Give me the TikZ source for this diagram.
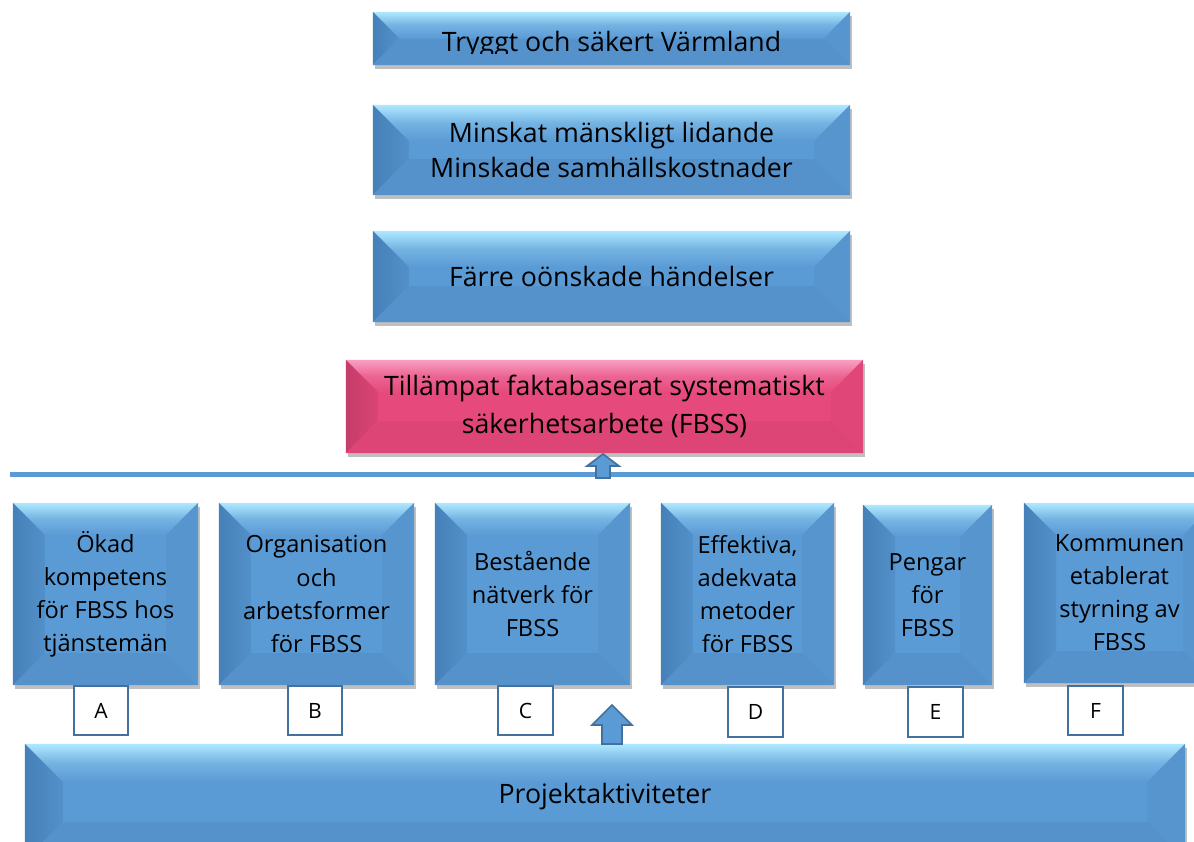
\documentclass[tikz,border=0pt]{standalone}
\usepackage{fontspec}
\setmainfont{Open Sans}
\usetikzlibrary{shadows}
\definecolor{bluemain}{HTML}{5B9BD5}
\definecolor{bluetop}{HTML}{AEE8FF}
\definecolor{blueleft}{HTML}{4680B8}
\definecolor{blueright}{HTML}{5795CF}
\definecolor{bluebot}{HTML}{5592CB}
\definecolor{bluerim}{HTML}{41719C}
\definecolor{pinkmain}{HTML}{E64A7D}
\definecolor{pinktop}{HTML}{F8A0C2}
\definecolor{pinkleft}{HTML}{C63D69}
\definecolor{pinkright}{HTML}{E04778}
\definecolor{pinkbot}{HTML}{DD4576}
\tikzset{
  bevel/.style 2 args={path picture={
    \coordinate (bnw) at (path picture bounding box.north west);
    \coordinate (bne) at (path picture bounding box.north east);
    \coordinate (bsw) at (path picture bounding box.south west);
    \coordinate (bse) at (path picture bounding box.south east);
    \shade[top color=#1top, bottom color=#1main, middle color=#1main!70!#1top]
      (bnw) -- (bne) -- ([shift={(-#2,-#2)}]bne) -- ([shift={(#2,-#2)}]bnw) -- cycle;
    \shade[left color=#1left, right color=#1main!60!#1left]
      (bnw) -- ([shift={(#2,-#2)}]bnw) -- ([shift={(#2,#2)}]bsw) -- (bsw) -- cycle;
    \fill[#1right] (bne) -- ([shift={(-#2,-#2)}]bne) -- ([shift={(-#2,#2)}]bse) -- (bse) -- cycle;
    \fill[#1bot] (bsw) -- ([shift={(#2,#2)}]bsw) -- ([shift={(-#2,#2)}]bse) -- (bse) -- cycle;
  }},
  boxshadow/.style={drop shadow={shadow xshift=0.5mm, shadow yshift=-1mm, opacity=0.25, fill=black}},
  bluebox/.style={fill=bluemain, inner sep=0pt, align=center, bevel={blue}{#1}, boxshadow},
  pinkbox/.style={fill=pinkmain, inner sep=0pt, align=center, bevel={pink}{#1}, boxshadow},
  bigtxt/.style={font=\fontsize{19}{25}\selectfont},
  smalltxt/.style={font=\fontsize{16.8}{23.5}\selectfont},
  tag/.style={draw=bluerim, line width=1.4pt, fill=white, inner sep=0pt,
    minimum width=1.36cm, minimum height=1.23cm, font=\fontsize{15}{18}\selectfont},
  uparrow/.style={fill=bluemain, draw=bluerim, line width=1.2pt, line join=miter},
  rail/.style={draw=bluemain, line width=3.5pt}
}
\begin{document}
\begin{tikzpicture}[x=0.025cm, y=-0.025cm]
  \useasboundingbox (0,0) rectangle (1194,841);

  % goals
  \node[bluebox=0.65cm, minimum width=11.925cm, minimum height=1.325cm] (goal) at (611.5,38.5) {};
  \begin{scope}
    \clip (373,12) rectangle (850,54);
    \node[bigtxt, anchor=base] (goaltext) at (611.5,52) {Tryggt och säkert Värmland};
  \end{scope}
  \node[bluebox=0.9cm, bigtxt, minimum width=11.925cm, minimum height=2.25cm] (effect) at (611.5,150)
    {Minskat mänskligt lidande\\Minskade samhällskostnader};
  \node[bluebox=0.9cm, bigtxt, minimum width=11.925cm, minimum height=2.275cm] (fewer) at (611.5,276.5)
    {Färre oönskade händelser};
  \node[pinkbox=0.8cm, minimum width=12.925cm, minimum height=2.325cm,
    font=\fontsize{19}{27}\selectfont] (fbss) at (604.5,406.5)
    {Tillämpat faktabaserat systematiskt\\säkerhetsarbete (FBSS)};

  \draw[rail] (10,474.5) -- (1194,474.5);
  \coordinate (arr1) at (603,478);
  \draw[uparrow] (arr1) ++(-7,0) -- ++(0,-12) -- ++(-9,0) -- ++(16,-12) -- ++(16,12)
    -- ++(-9,0) -- ++(0,12) -- cycle;

  % outcomes
  \node[bluebox=0.8cm, smalltxt, minimum width=4.625cm, minimum height=4.55cm] (oA) at (105.5,594)
    {Ökad\\kompetens\\för FBSS hos\\tjänstemän};
  \node[bluebox=0.8cm, smalltxt, minimum width=4.875cm, minimum height=4.55cm] (oB) at (316.5,594)
    {Organisation\\och\\arbetsformer\\för FBSS};
  \node[bluebox=0.8cm, smalltxt, minimum width=4.875cm, minimum height=4.55cm] (oC) at (532.5,594)
    {Bestående\\nätverk för\\FBSS};
  \node[bluebox=0.8cm, smalltxt, minimum width=4.325cm, minimum height=4.55cm] (oD) at (747.5,594)
    {Effektiva,\\adekvata\\metoder\\för FBSS};
  \node[bluebox=0.8cm, smalltxt, minimum width=3.225cm, minimum height=4.5cm] (oE) at (927.5,595)
    {Pengar\\för\\FBSS};
  \node[bluebox=0.8cm, smalltxt, minimum width=4.775cm, minimum height=4.5cm] (oF) at (1119.5,593)
    {Kommunen\\etablerat\\styrning av\\FBSS};

  % tags
  \node[tag] (tA) at (101,710.5) {A};
  \node[tag] (tB) at (315,710.5) {B};
  \node[tag] (tC) at (525.5,710.5) {C};
  \node[tag] (tD) at (755.5,712) {D};
  \node[tag] (tE) at (935.5,712) {E};
  \node[tag] (tF) at (1095.5,710.5) {F};

  % activities
  \node[bluebox=0.95cm, bigtxt, minimum width=29cm, minimum height=2.9cm] (proj) at (605,802) {};
  \node[bigtxt] (projtext) at (605,797) {Projektaktiviteter};
  \coordinate (arr2) at (612,744);
  \draw[uparrow] (arr2) ++(-10,0) -- ++(0,-19) -- ++(-10,0) -- ++(20,-20) -- ++(20,20)
    -- ++(-10,0) -- ++(0,19) -- cycle;
\end{tikzpicture}
\end{document}
